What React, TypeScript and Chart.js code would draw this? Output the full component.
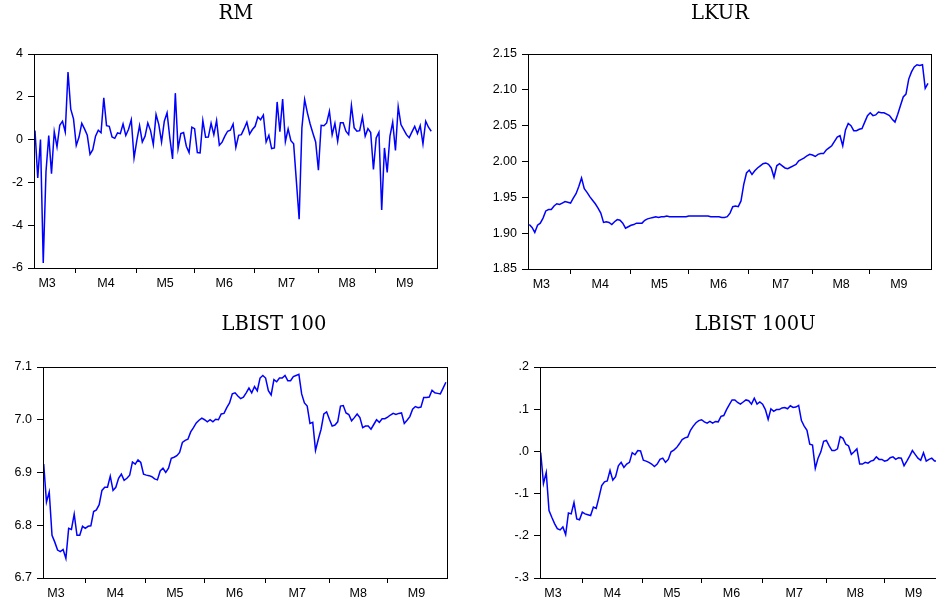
import React, { useEffect, useRef } from 'react';
import { Chart, registerables } from 'chart.js';
Chart.register(...registerables);

// ---- data ----
const RM = [
  0.42, -1.79, 0.0, -5.76, -1.5, 0.19, -1.59, 0.37, -0.34, 0.67,
  0.86, 0.36, 3.16, 1.42, 0.97, -0.27, 0.12, 0.76, 0.5, 0.2,
  -0.69, -0.47, 0.16, 0.44, 0.32, 1.95, 0.65, 0.62, 0.12, 0.06,
  0.31, 0.28, 0.73, 0.19, 0.48, 0.93, -0.86, -0.05, 0.65, -0.11,
  0.16, 0.78, 0.42, -0.23, 1.17, 0.7, -0.11, 0.86, 1.25, 0.08,
  -0.9, 2.17, -0.42, 0.28, 0.33, -0.31, -0.61, 0.58, 0.51, -0.61,
  -0.62, 0.89, 0.11, 0.12, 0.76, 0.23, 0.89, -0.26, -0.12, 0.16,
  0.39, 0.44, 0.73, -0.36, 0.2, 0.23, 0.51, 0.81, 0.26, 0.47,
  0.62, 1.06, 0.93, 1.15, -0.11, 0.2, -0.42, -0.39, 1.76, 0.37,
  1.9, -0.09, 0.5, -0.05, -0.2, -1.95, -3.72, 0.55, 1.87, 1.25,
  0.73, 0.3, -0.11, -1.43, 0.67, 0.65, 0.78, 1.32, 0.23, 0.76,
  -0.08, 0.79, 0.79, 0.39, 0.23, 1.6, 0.55, 0.39, 0.42, 1.06,
  0.16, 0.51, 0.33, -1.4, 0.08, 0.34, -3.29, -0.39, -1.53, 0.16,
  0.81, -0.51, 1.54, 0.7, 0.47, 0.23, 0.09, 0.36, 0.62, 0.28,
  0.65, -0.2, 0.86, 0.58, 0.39,
];

const LKUR = [
  1.912, 1.908, 1.901, 1.911, 1.914, 1.921, 1.931, 1.933, 1.933, 1.938,
  1.941, 1.940, 1.942, 1.944, 1.943, 1.942, 1.949, 1.955, 1.965, 1.977,
  1.962, 1.957, 1.951, 1.946, 1.941, 1.935, 1.928, 1.915, 1.916, 1.915,
  1.912, 1.916, 1.919, 1.918, 1.914, 1.907, 1.909, 1.911, 1.912, 1.914,
  1.914, 1.914, 1.918, 1.920, 1.921, 1.922, 1.923, 1.922, 1.923, 1.923,
  1.924, 1.923, 1.923, 1.923, 1.923, 1.923, 1.923, 1.923, 1.924, 1.924,
  1.924, 1.924, 1.924, 1.924, 1.924, 1.924, 1.923, 1.923, 1.923, 1.923,
  1.922, 1.922, 1.923, 1.928, 1.937, 1.938, 1.937, 1.945, 1.968, 1.984,
  1.988, 1.982, 1.987, 1.991, 1.994, 1.997, 1.998, 1.996, 1.991, 1.978,
  1.994, 1.997, 1.994, 1.991, 1.990, 1.992, 1.994, 1.996, 2.001, 2.003,
  2.005, 2.008, 2.010, 2.009, 2.007, 2.010, 2.011, 2.011, 2.016, 2.019,
  2.022, 2.028, 2.034, 2.036, 2.022, 2.044, 2.053, 2.050, 2.043, 2.043,
  2.045, 2.046, 2.055, 2.064, 2.068, 2.064, 2.065, 2.069, 2.068, 2.068,
  2.066, 2.064, 2.059, 2.055, 2.066, 2.078, 2.090, 2.094, 2.115, 2.125,
  2.132, 2.135, 2.134, 2.135, 2.102, 2.109,
];

const LBIST100 = [
  6.916, 6.844, 6.863, 6.781, 6.768, 6.753, 6.750, 6.754, 6.737, 6.794,
  6.792, 6.821, 6.781, 6.781, 6.798, 6.794, 6.798, 6.799, 6.826, 6.829,
  6.839, 6.866, 6.872, 6.872, 6.893, 6.866, 6.872, 6.889, 6.897, 6.885,
  6.889, 6.895, 6.920, 6.916, 6.924, 6.919, 6.897, 6.895, 6.894, 6.892,
  6.888, 6.886, 6.903, 6.908, 6.900, 6.908, 6.927, 6.929, 6.932, 6.938,
  6.957, 6.961, 6.963, 6.977, 6.985, 6.994, 6.999, 7.003, 7.000, 6.996,
  7.000, 6.996, 7.001, 7.000, 7.011, 7.012, 7.023, 7.032, 7.049, 7.051,
  7.045, 7.040, 7.043, 7.051, 7.060, 7.051, 7.063, 7.055, 7.079, 7.084,
  7.079, 7.055, 7.047, 7.076, 7.072, 7.079, 7.079, 7.084, 7.074, 7.074,
  7.082, 7.084, 7.086, 7.049, 7.032, 7.026, 6.993, 6.995, 6.942, 6.963,
  6.982, 7.011, 7.015, 7.001, 6.988, 6.990, 6.996, 7.026, 7.027, 7.013,
  7.010, 6.998, 7.004, 7.011, 7.004, 6.985, 6.988, 6.988, 6.982, 6.991,
  7.000, 6.995, 7.002, 7.002, 7.005, 7.009, 7.012, 7.010, 7.012, 7.013,
  6.993, 6.999, 7.006, 7.020, 7.025, 7.023, 7.024, 7.042, 7.042, 7.043,
  7.056, 7.051, 7.050, 7.049, 7.060, 7.071,
];

const LBIST100U = [
  -0.003, -0.076, -0.050, -0.140, -0.156, -0.171, -0.183, -0.186, -0.179, -0.197,
  -0.146, -0.148, -0.121, -0.160, -0.162, -0.144, -0.148, -0.150, -0.152, -0.132,
  -0.135, -0.109, -0.081, -0.072, -0.070, -0.045, -0.068, -0.060, -0.034, -0.026,
  -0.038, -0.030, -0.026, -0.003, -0.008, 0.002, 0.001, -0.021, -0.023, -0.026,
  -0.030, -0.036, -0.030, -0.019, -0.016, -0.026, -0.019, -0.001, 0.003, 0.009,
  0.018, 0.028, 0.032, 0.034, 0.050, 0.060, 0.068, 0.073, 0.075, 0.070,
  0.067, 0.071, 0.067, 0.071, 0.070, 0.083, 0.085, 0.099, 0.111, 0.122,
  0.122, 0.116, 0.112, 0.117, 0.122, 0.120, 0.112, 0.126, 0.112, 0.117,
  0.112, 0.099, 0.076, 0.101, 0.095, 0.099, 0.099, 0.103, 0.104, 0.101,
  0.108, 0.104, 0.105, 0.109, 0.073, 0.060, 0.050, 0.017, 0.015, -0.040,
  -0.016, -0.001, 0.024, 0.026, 0.013, 0.002, 0.002, 0.006, 0.035, 0.031,
  0.017, 0.013, -0.007, -0.001, 0.006, -0.030, -0.030, -0.026, -0.028, -0.023,
  -0.021, -0.013, -0.019, -0.019, -0.023, -0.021, -0.015, -0.013, -0.019, -0.015,
  -0.016, -0.034, -0.023, -0.011, 0.002, -0.007, -0.016, -0.021, -0.003, -0.023,
  -0.019, -0.016, -0.023, -0.023, -0.023, -0.024,
];

const MONTH_LABELS = ['M3', 'M4', 'M5', 'M6', 'M7', 'M8', 'M9'];
const MONTH_LABEL_POS = [4.4, 25.8, 47.3, 68.8, 91.4, 113.4, 134.4];
const MONTH_BOUNDARIES = [14.9, 36.8, 57.8, 79.9, 102.9, 123.9];

const RM_TICKS = [-6, -4, -2, 0, 2, 4];
const LKUR_TICKS = [1.85, 1.9, 1.95, 2.0, 2.05, 2.1, 2.15];
const LBIST_TICKS = [6.7, 6.8, 6.9, 7.0, 7.1];
const LBISTU_TICKS = [-0.3, -0.2, -0.1, 0, 0.1, 0.2];

const fmtInt = (v: number) => String(Math.round(v));
const fmt2 = (v: number) => v.toFixed(2);
const fmt1 = (v: number) => v.toFixed(1);
const fmtDot = (v: number) => {
  if (Math.abs(v) < 1e-9) return '.0';
  const s = Math.abs(v).toFixed(1).replace(/^0/, '');
  return (v < 0 ? '-' : '') + s;
};

type Panel = {
  title: string;
  data: number[];
  yTicks: number[];
  fmt: (v: number) => string;
  left: number; top: number; width: number; height: number;
  padTop: number; padRight: number; yW: number; xH: number;
  xMin: number; xMax: number; titleX: number; titleY: number;
};

const PANELS: Panel[] = [
  { title: 'RM', data: RM, yTicks: RM_TICKS, fmt: fmtInt,
    left: 0, top: 0, width: 468, height: 300, padTop: 54, padRight: 31, yW: 34, xH: 32,
    xMin: -0.36, xMax: 146.1, titleX: 235.8, titleY: 18.5 },
  { title: 'LKUR', data: LKUR, yTicks: LKUR_TICKS, fmt: fmt2,
    left: 468, top: 0, width: 468, height: 300, padTop: 54, padRight: 5, yW: 60, xH: 31,
    xMin: -0.47, xMax: 146.1, titleX: 252, titleY: 18.5 },
  { title: 'LBIST 100', data: LBIST100, yTicks: LBIST_TICKS, fmt: fmt1,
    left: 0, top: 300, width: 468, height: 307, padTop: 67, padRight: 21, yW: 43, xH: 29,
    xMin: -0.25, xMax: 145.4, titleX: 274, titleY: 30 },
  { title: 'LBIST 100U', data: LBIST100U, yTicks: LBISTU_TICKS, fmt: fmtDot,
    left: 468, top: 300, width: 490, height: 307, padTop: 67, padRight: 14, yW: 72, xH: 29,
    xMin: -0.25, xMax: 145.4, titleX: 287, titleY: 30 },
];

const TICK_FONT = { family: '"Liberation Sans", Arial, sans-serif', size: 12.5 };

function ChartPanel({ p }: { p: Panel }) {
  const ref = useRef<HTMLCanvasElement | null>(null);
  useEffect(() => {
    const canvas = ref.current;
    if (!canvas) return;
    const framePlugin = {
      id: 'frame',
      afterDraw(chart: any) {
        const { ctx, chartArea: a } = chart;
        ctx.save();
        ctx.strokeStyle = '#000';
        ctx.lineWidth = 1;
        ctx.strokeRect(Math.round(a.left) + 0.5, Math.round(a.top) + 0.5,
          Math.round(a.right - a.left), Math.round(a.bottom - a.top));
        ctx.restore();
      },
    };
    const titlePlugin = {
      id: 'panelTitle',
      afterDraw(chart: any) {
        const ctx = chart.ctx;
        ctx.save();
        ctx.font = '19.5px "DejaVu Serif", serif';
        ctx.fillStyle = '#000';
        ctx.textAlign = 'center';
        ctx.textBaseline = 'alphabetic';
        ctx.fillText(p.title, p.titleX, p.titleY);
        ctx.restore();
      },
    };
    const chart = new Chart(canvas, {
      type: 'line',
      data: {
        datasets: [{
          label: p.title,
          data: p.data.map((v, i) => ({ x: i, y: v })),
          borderColor: '#0000FF',
          borderWidth: 1.5,
          pointRadius: 0,
          tension: 0,
          fill: false,
        }],
      },
      options: {
        responsive: false,
        animation: false,
        devicePixelRatio: 1,
        layout: { padding: { top: p.padTop, right: p.padRight, bottom: 0, left: 0 } },
        plugins: { legend: { display: false }, tooltip: { enabled: false }, title: { display: false } },
        scales: {
          x: {
            type: 'linear',
            min: p.xMin,
            max: p.xMax,
            afterBuildTicks: (scale: any) => {
              scale.ticks = [...MONTH_BOUNDARIES, ...MONTH_LABEL_POS]
                .sort((a, b) => a - b)
                .map((v) => ({ value: v }));
            },
            afterFit: (scale: any) => { scale.height = p.xH; },
            border: { display: false },
            grid: {
              drawOnChartArea: false,
              drawTicks: true,
              tickLength: 5,
              tickWidth: 1,
              tickColor: (c: any) =>
                c.tick && MONTH_BOUNDARIES.includes(c.tick.value) ? '#000' : 'rgba(0,0,0,0)',
            },
            ticks: {
              autoSkip: false,
              maxRotation: 0,
              minRotation: 0,
              padding: 3,
              color: '#000',
              font: TICK_FONT,
              callback: (v: any) => {
                const i = MONTH_LABEL_POS.indexOf(Number(v));
                return i >= 0 ? MONTH_LABELS[i] : '';
              },
            },
          },
          y: {
            type: 'linear',
            min: p.yTicks[0],
            max: p.yTicks[p.yTicks.length - 1],
            afterBuildTicks: (scale: any) => {
              scale.ticks = p.yTicks.map((v) => ({ value: v }));
            },
            afterFit: (scale: any) => { scale.width = p.yW; },
            border: { display: false },
            grid: { drawOnChartArea: false, drawTicks: true, tickLength: 6, tickColor: '#000', tickWidth: 1 },
            ticks: {
              padding: 5,
              color: '#000',
              font: TICK_FONT,
              callback: (v: any) => p.fmt(Number(v)),
            },
          },
        },
      },
      plugins: [framePlugin, titlePlugin],
    } as any);
    return () => chart.destroy();
  }, [p]);
  return (
    <canvas
      ref={ref}
      width={p.width}
      height={p.height}
      style={{ position: 'absolute', left: p.left, top: p.top, width: p.width, height: p.height }}
    />
  );
}

export default function App() {
  return (
    <div style={{ position: 'absolute', left: 0, top: 0, width: 936, height: 607, overflow: 'hidden', background: '#fff' }}>
      {PANELS.map((p) => (
        <ChartPanel key={p.title} p={p} />
      ))}
    </div>
  );
}
